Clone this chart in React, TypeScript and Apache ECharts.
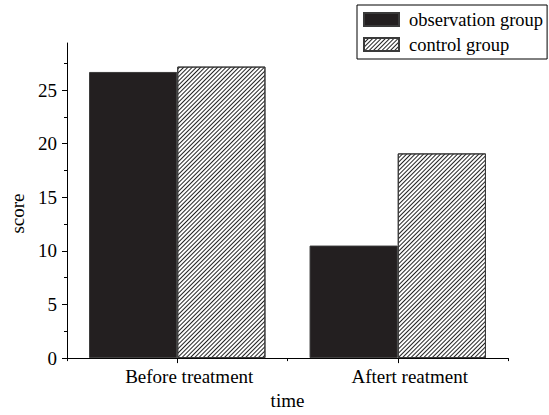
import React, { useEffect, useRef } from "react";
import * as echarts from "echarts";

const categories = ["Before treatment", "Aftert reatment"];
const seriesNames = ["observation group", "control group"];
const observationGroup = [26.7, 10.5];
const controlGroup = [27.2, 19.1];
const yMajorTicks = [0, 5, 10, 15, 20, 25];
const yMinorTicks = [2.5, 7.5, 12.5, 17.5, 22.5, 27.5];
const yMin = 0;
const yMax = 29.4;

const FONT = "'Liberation Serif', 'Times New Roman', 'DejaVu Serif', serif";

export default function App() {
  const ref = useRef<HTMLDivElement>(null);
  useEffect(() => {
    if (!ref.current) return;
    const chart = echarts.init(ref.current, undefined, { renderer: "svg" });
    const axisColor = "#000";
    const hatch = {
      symbol: "rect",
      symbolSize: 1,
      dashArrayX: [1, 0],
      dashArrayY: [0.8, 1.3],
      rotation: -Math.PI / 4,
      color: "#222",
      backgroundColor: "#fff",
    };
    chart.setOption({
      animation: false,
      backgroundColor: "#fff",
      textStyle: { fontFamily: FONT, color: "#000" },
      grid: { left: 64, right: 41, top: 43, bottom: 45, containLabel: false },
      legend: {
        orient: "vertical",
        left: 357,
        top: 5,
        padding: [5, 4, 5, 6],
        itemGap: 6,
        itemWidth: 35,
        itemHeight: 13,
        icon: "rect",
        borderColor: "#000",
        borderWidth: 1,
        textStyle: { fontFamily: FONT, fontSize: 18.5, color: "#000", padding: [0, 0, 0, 5] },
        data: seriesNames,
      },
      xAxis: [
        {
          type: "category",
          data: categories,
          position: "bottom",
          name: "time",
          nameLocation: "middle",
          nameGap: 27,
          nameTextStyle: { fontFamily: FONT, fontSize: 19, color: "#000" },
          axisLine: { show: true, lineStyle: { color: axisColor, width: 1 } },
          axisTick: { show: true, alignWithLabel: true, length: 5, lineStyle: { color: axisColor } },
          axisLabel: {
            fontFamily: FONT,
            fontSize: 19,
            color: "#000",
            margin: 9,
            padding: [0, 0, 0, 24],
          },
          splitLine: { show: false },
        },
        {
          type: "category",
          data: categories,
          position: "bottom",
          axisLine: { show: false },
          axisTick: { show: true, alignWithLabel: false, length: 3, lineStyle: { color: axisColor } },
          axisLabel: { show: false },
          splitLine: { show: false },
        },
      ],
      yAxis: [
        {
          type: "value",
          min: yMin,
          max: yMax,
          position: "left",
          name: "score",
          nameLocation: "middle",
          nameGap: 40,
          nameTextStyle: { fontFamily: FONT, fontSize: 19, color: "#000", padding: [0, 26, 0, 0] },
          axisLine: { show: true, lineStyle: { color: axisColor, width: 1 } },
          axisTick: { show: true, length: 5, customValues: yMajorTicks, lineStyle: { color: axisColor } },
          axisLabel: { fontFamily: FONT, fontSize: 19, color: "#000", margin: 10, customValues: yMajorTicks },
          splitLine: { show: false },
        },
        {
          type: "value",
          min: yMin,
          max: yMax,
          position: "left",
          axisLine: { show: false },
          axisTick: { show: true, length: 3, customValues: yMinorTicks, lineStyle: { color: axisColor } },
          axisLabel: { show: false },
          splitLine: { show: false },
        },
      ],
      series: [
        {
          name: seriesNames[0],
          type: "bar",
          xAxisIndex: 0,
          yAxisIndex: 0,
          data: observationGroup,
          barGap: "0%",
          barCategoryGap: "20%",
          itemStyle: { color: "#231f20", borderColor: "#3a3a3a", borderWidth: 1 },
        },
        {
          name: seriesNames[1],
          type: "bar",
          xAxisIndex: 0,
          yAxisIndex: 0,
          data: controlGroup,
          barGap: "0%",
          barCategoryGap: "20%",
          itemStyle: { color: "#fff", borderColor: "#3a3a3a", borderWidth: 1, decal: hatch },
        },
      ],
    });
    return () => chart.dispose();
  }, []);
  return <div ref={ref} style={{ width: 549, height: 415, position: "absolute", left: 0, top: 0 }} />;
}
